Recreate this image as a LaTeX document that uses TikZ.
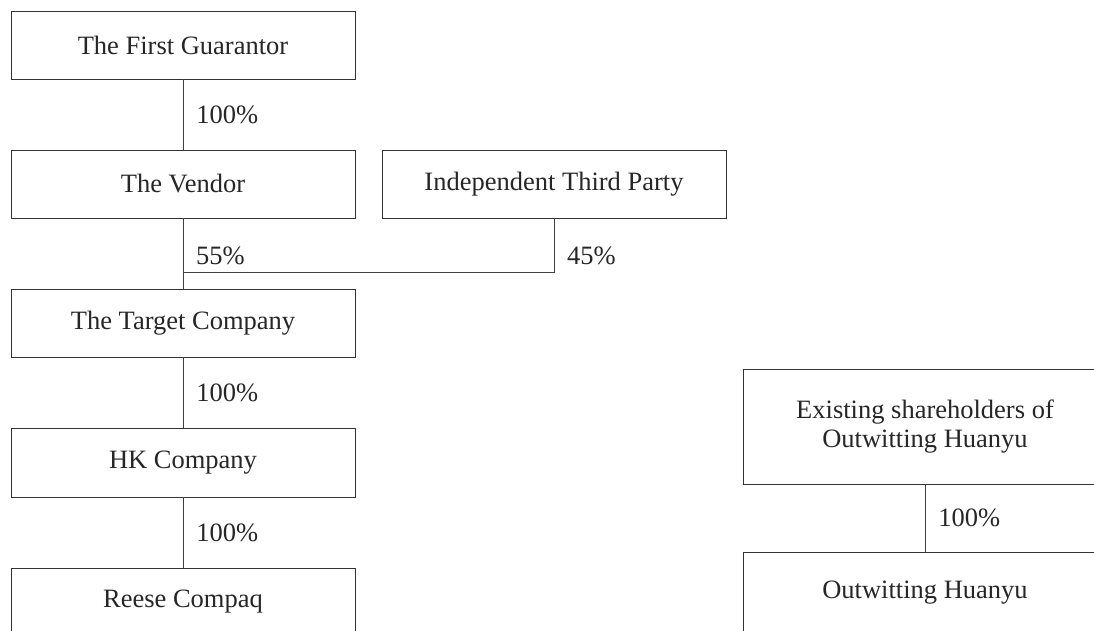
\documentclass[tikz,border=0pt]{standalone}
\usepackage{fontspec}
\setmainfont{Liberation Serif}
\usepackage{tikz}

\begin{document}
\begin{tikzpicture}[x=1pt,y=-1pt,
  every node/.style={font=\fontsize{26.5}{29}\selectfont,text=black!85},
  entity/.style={draw=black!80,line width=0.9pt,minimum width=344pt,minimum height=68pt,inner sep=0pt,align=center},
  pct/.style={anchor=west,xshift=13pt,inner sep=0pt},
  link/.style={draw=black!75,line width=0.9pt}]
\useasboundingbox (0,0) rectangle (1094,630);
\clip (0,0) rectangle (1094,630);
% left chain
\node[entity] (guar) at (183,45) {The First Guarantor};
\node[entity] (vendor) at (183,184) {The Vendor};
\node[entity] (third) at (554,184) {Independent Third Party};
\node[entity] (target) at (183,323) {The Target Company};
\node[entity,minimum height=69pt] (hk) at (183,462.5) {HK Company};
\node[entity] (reese) at (183,602) {Reese Compaq};
% right chain
\node[entity,minimum width=364pt,minimum height=115pt] (holders) at (925,426.5) {Existing shareholders of\\Outwitting Huanyu};
\node[entity,minimum width=364pt,minimum height=82pt] (outwit) at (925,593) {Outwitting Huanyu};
\coordinate (junc) at (183,272);
\draw[link] (guar) -- (vendor) node[pct,midway] {100\%};
\draw[link] (vendor) -- (target);
\draw[link] (third.south) |- (junc);
\path (vendor.south) -- (junc) node[pct,pos=0.7] {55\%};
\path (third.south) -- (third.south |- junc) node[pct,pos=0.7] {45\%};
\draw[link] (target) -- (hk) node[pct,midway] {100\%};
\draw[link] (hk) -- (reese) node[pct,midway] {100\%};
\draw[link] (holders) -- (outwit) node[pct,midway] {100\%};
\end{tikzpicture}
\end{document}
